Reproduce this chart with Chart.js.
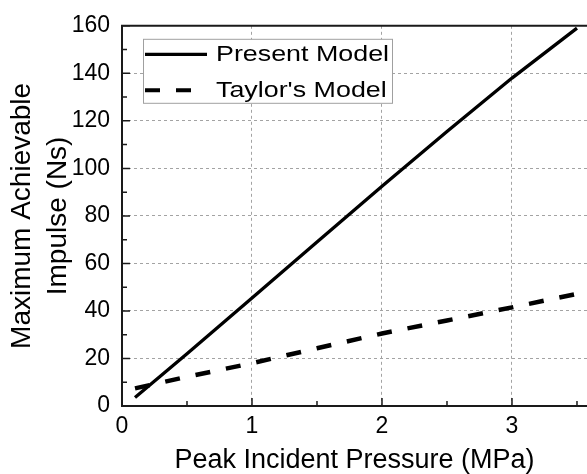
<!DOCTYPE html>
<html>
<head>
<meta charset="utf-8">
<script src="https://cdn.jsdelivr.net/npm/chart.js@4/dist/chart.umd.min.js"></script>
<style>
  html, body { margin: 0; padding: 0; background: #ffffff; }
  #wrap { width: 587px; height: 474px; }
</style>
</head>
<body>
<div id="wrap"><canvas id="c" width="587" height="474"></canvas></div>
<script>
// ---- data ----
const pressure = [0.1, 0.5, 1.0, 1.5, 2.0, 2.5, 3.0, 3.5];          // MPa
const presentModel = [3.6, 22.0, 45.5, 69.0, 92.5, 115.5, 138.0, 159.0]; // Ns
const taylorModel  = [7.4, 12.3, 18.0, 24.3, 30.5, 36.0, 41.5, 47.2];     // Ns
const seriesNames = ['Present Model', "Taylor's Model"];
const xTitle = 'Peak Incident Pressure (MPa)';
const yTitle = ['Maximum Achievable', 'Impulse (Ns)'];
const xTickValues = [0, 1, 2, 3];
const yTickValues = [0, 20, 40, 60, 80, 100, 120, 140, 160];
const xMinorTicks = [0.5, 1.5, 2.5, 3.5];
const yMinorTicks = [10, 30, 50, 70, 90, 110, 130, 150];

const FONT = '"Liberation Sans", Arial, sans-serif';

function toXY(xs, ys) { return xs.map((x, i) => ({ x: x, y: ys[i] })); }

const framePlugin = {
  id: 'frameTicks',
  afterDatasetsDraw(chart) {
    const { ctx, chartArea: a, scales } = chart;
    const xs = scales.x, ys = scales.y;
    ctx.save();
    ctx.strokeStyle = '#1a1a1a';
    ctx.lineWidth = 1.5;
    ctx.setLineDash([]);
    // inward major/minor ticks
    ctx.beginPath();
    xTickValues.forEach(v => { const p = xs.getPixelForValue(v); ctx.moveTo(p, a.bottom); ctx.lineTo(p, a.bottom - 8); });
    xMinorTicks.forEach(v => { const p = xs.getPixelForValue(v); ctx.moveTo(p, a.bottom); ctx.lineTo(p, a.bottom - 5); });
    yTickValues.forEach(v => { const p = ys.getPixelForValue(v); ctx.moveTo(a.left, p); ctx.lineTo(a.left + 8, p); });
    yMinorTicks.forEach(v => { const p = ys.getPixelForValue(v); ctx.moveTo(a.left, p); ctx.lineTo(a.left + 5, p); });
    ctx.stroke();
    // frame: left, bottom, top
    ctx.lineWidth = 2;
    ctx.beginPath();
    ctx.moveTo(a.right, a.top); ctx.lineTo(a.left, a.top); ctx.lineTo(a.left, a.bottom); ctx.lineTo(a.right, a.bottom);
    ctx.stroke();

    // legend box
    const lx = a.left + 21.5, ly = a.top + 13.5, lw = 249, lh = 64;
    ctx.fillStyle = '#ffffff';
    ctx.fillRect(lx, ly, lw, lh);
    ctx.strokeStyle = '#a0a0a0';
    ctx.lineWidth = 1;
    ctx.strokeRect(lx, ly, lw, lh);
    chart.data.datasets.forEach((ds, i) => {
      const cy = ly + 15 + i * 36;
      ctx.strokeStyle = ds.borderColor;
      ctx.lineWidth = i === 0 ? 3.3 : 4;
      ctx.setLineDash(ds.borderDash || []);
      ctx.beginPath();
      ctx.moveTo(lx + 1.5, cy);
      ctx.lineTo(lx + 63.5, cy);
      ctx.stroke();
      ctx.setLineDash([]);
      ctx.save();
      ctx.fillStyle = '#000000';
      ctx.font = '22px ' + FONT;
      ctx.textBaseline = 'middle';
      ctx.textAlign = 'left';
      ctx.translate(lx + 72.5, cy + 0.5);
      ctx.scale(1.22, 1);
      ctx.fillText(ds.label, 0, 0);
      ctx.restore();
    });
    ctx.restore();
  }
};

new Chart(document.getElementById('c'), {
  type: 'line',
  data: {
    datasets: [
      {
        label: seriesNames[0],
        data: toXY(pressure, presentModel),
        borderColor: '#000000',
        borderWidth: 3.3,
        pointRadius: 0,
        tension: 0,
        fill: false
      },
      {
        label: seriesNames[1],
        data: toXY(pressure, taylorModel),
        borderColor: '#000000',
        borderWidth: 4.5,
        borderDash: [15, 16],
        borderCapStyle: 'butt',
        pointRadius: 0,
        tension: 0,
        fill: false
      }
    ]
  },
  options: {
    responsive: false,
    devicePixelRatio: 1,
    animation: false,
    layout: { padding: { top: 24, right: 0, bottom: 0, left: 0 } },
    plugins: { legend: { display: false }, tooltip: { enabled: false } },
    scales: {
      x: {
        type: 'linear',
        min: 0,
        max: 3.577,
        afterFit(s) { s.height = 68; },
        afterBuildTicks(s) { s.ticks = xTickValues.map(v => ({ value: v })); },
        ticks: { font: { family: FONT, size: 23 }, color: '#000000', padding: 7, includeBounds: false, maxRotation: 0 },
        grid: { color: '#a3a3a3', lineWidth: 1, drawTicks: false },
        border: { display: false, dash: [3, 3] },
        title: { display: true, text: xTitle, color: '#000000', font: { family: FONT, size: 27, lineHeight: 1 }, padding: { top: 0, bottom: 0 } }
      },
      y: {
        type: 'linear',
        min: 0,
        max: 160,
        afterFit(s) { s.width = 122; },
        afterBuildTicks(s) { s.ticks = yTickValues.map(v => ({ value: v })); },
        ticks: { font: { family: FONT, size: 23 }, color: '#000000', padding: 12 },
        grid: { color: '#a3a3a3', lineWidth: 1, drawTicks: false },
        border: { display: false, dash: [3, 3] },
        title: { display: true, text: yTitle, color: '#000000', font: { family: FONT, size: 28, lineHeight: 1.28 }, padding: { top: 4.6, bottom: 0 } }
      }
    }
  },
  plugins: [framePlugin]
});
</script>
</body>
</html>
